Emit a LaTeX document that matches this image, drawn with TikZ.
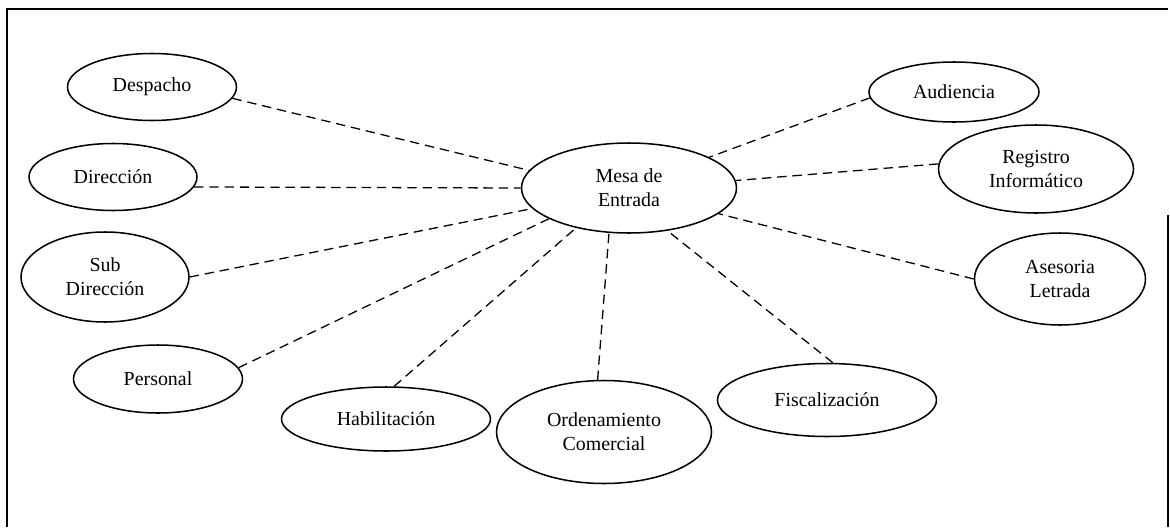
\documentclass[tikz,border=0pt]{standalone}
\usepackage{fontspec}
\setmainfont{Liberation Serif}
\usetikzlibrary{shapes.geometric}

\begin{document}
\begin{tikzpicture}[x=0.03cm, y=-0.03cm,
    area/.style={ellipse, draw, line width=1.3pt, inner sep=0pt, align=center,
                 font=\fontsize{17}{20.5}\selectfont},
    enlace/.style={line width=1.1pt, dash pattern=on 8pt off 5pt}]
    \useasboundingbox (0,0) rectangle (1170,527);
    % marco
    \draw[line width=2.2pt] (7,527) -- (7,9) -- (1168,9);
    \draw[line width=2.2pt] (1168,215) -- (1168,527);
    % nodo central
    \node[area, minimum width=6.45cm, minimum height=2.7cm] (mesa) at (629,188) {Mesa de\\Entrada};
    % areas izquierda
    \node[area, minimum width=5.07cm, minimum height=2.01cm] (despacho) at (152,87) {Despacho};
    \node[area, minimum width=5.04cm, minimum height=2.01cm] (direccion) at (113,177) {Dirección};
    \node[area, minimum width=5.04cm, minimum height=2.7cm] (subdireccion) at (105,277) {Sub\\Dirección};
    \node[area, minimum width=5.07cm, minimum height=2.04cm] (personal) at (158,379) {Personal};
    % areas abajo
    \node[area, minimum width=6.27cm, minimum height=1.92cm] (habilitacion) at (386,419) {Habilitación};
    \node[area, minimum width=6.45cm, minimum height=3.09cm] (ordenamiento) at (604,432) {Ordenamiento\\Comercial};
    \node[area, minimum width=6.57cm, minimum height=2.19cm] (fiscalizacion) at (827,400) {Fiscalización};
    % areas derecha
    \node[area, minimum width=5.1cm, minimum height=1.8cm] (audiencia) at (954,92) {Audiencia};
    \node[area, minimum width=5.85cm, minimum height=2.64cm] (registro) at (1036,169) {Registro\\Informático};
    \node[area, minimum width=5.13cm, minimum height=2.76cm] (asesoria) at (1060,279) {Asesoria\\Letrada};
    % enlaces con mesa de entrada
    \foreach \area/\desde/\hasta in {despacho/-8/170, direccion/-7.6/180, subdireccion/0/-168.6,
        personal/8.5/-159, habilitacion/76/-143.6, ordenamiento/97.7/-114,
        fiscalizacion/81.5/-48.9, audiencia/-176/21.4, registro/177.7/4, asesoria/180/-16.8}
        \draw[enlace] (\area.\desde) -- (mesa.\hasta);
\end{tikzpicture}
\end{document}
